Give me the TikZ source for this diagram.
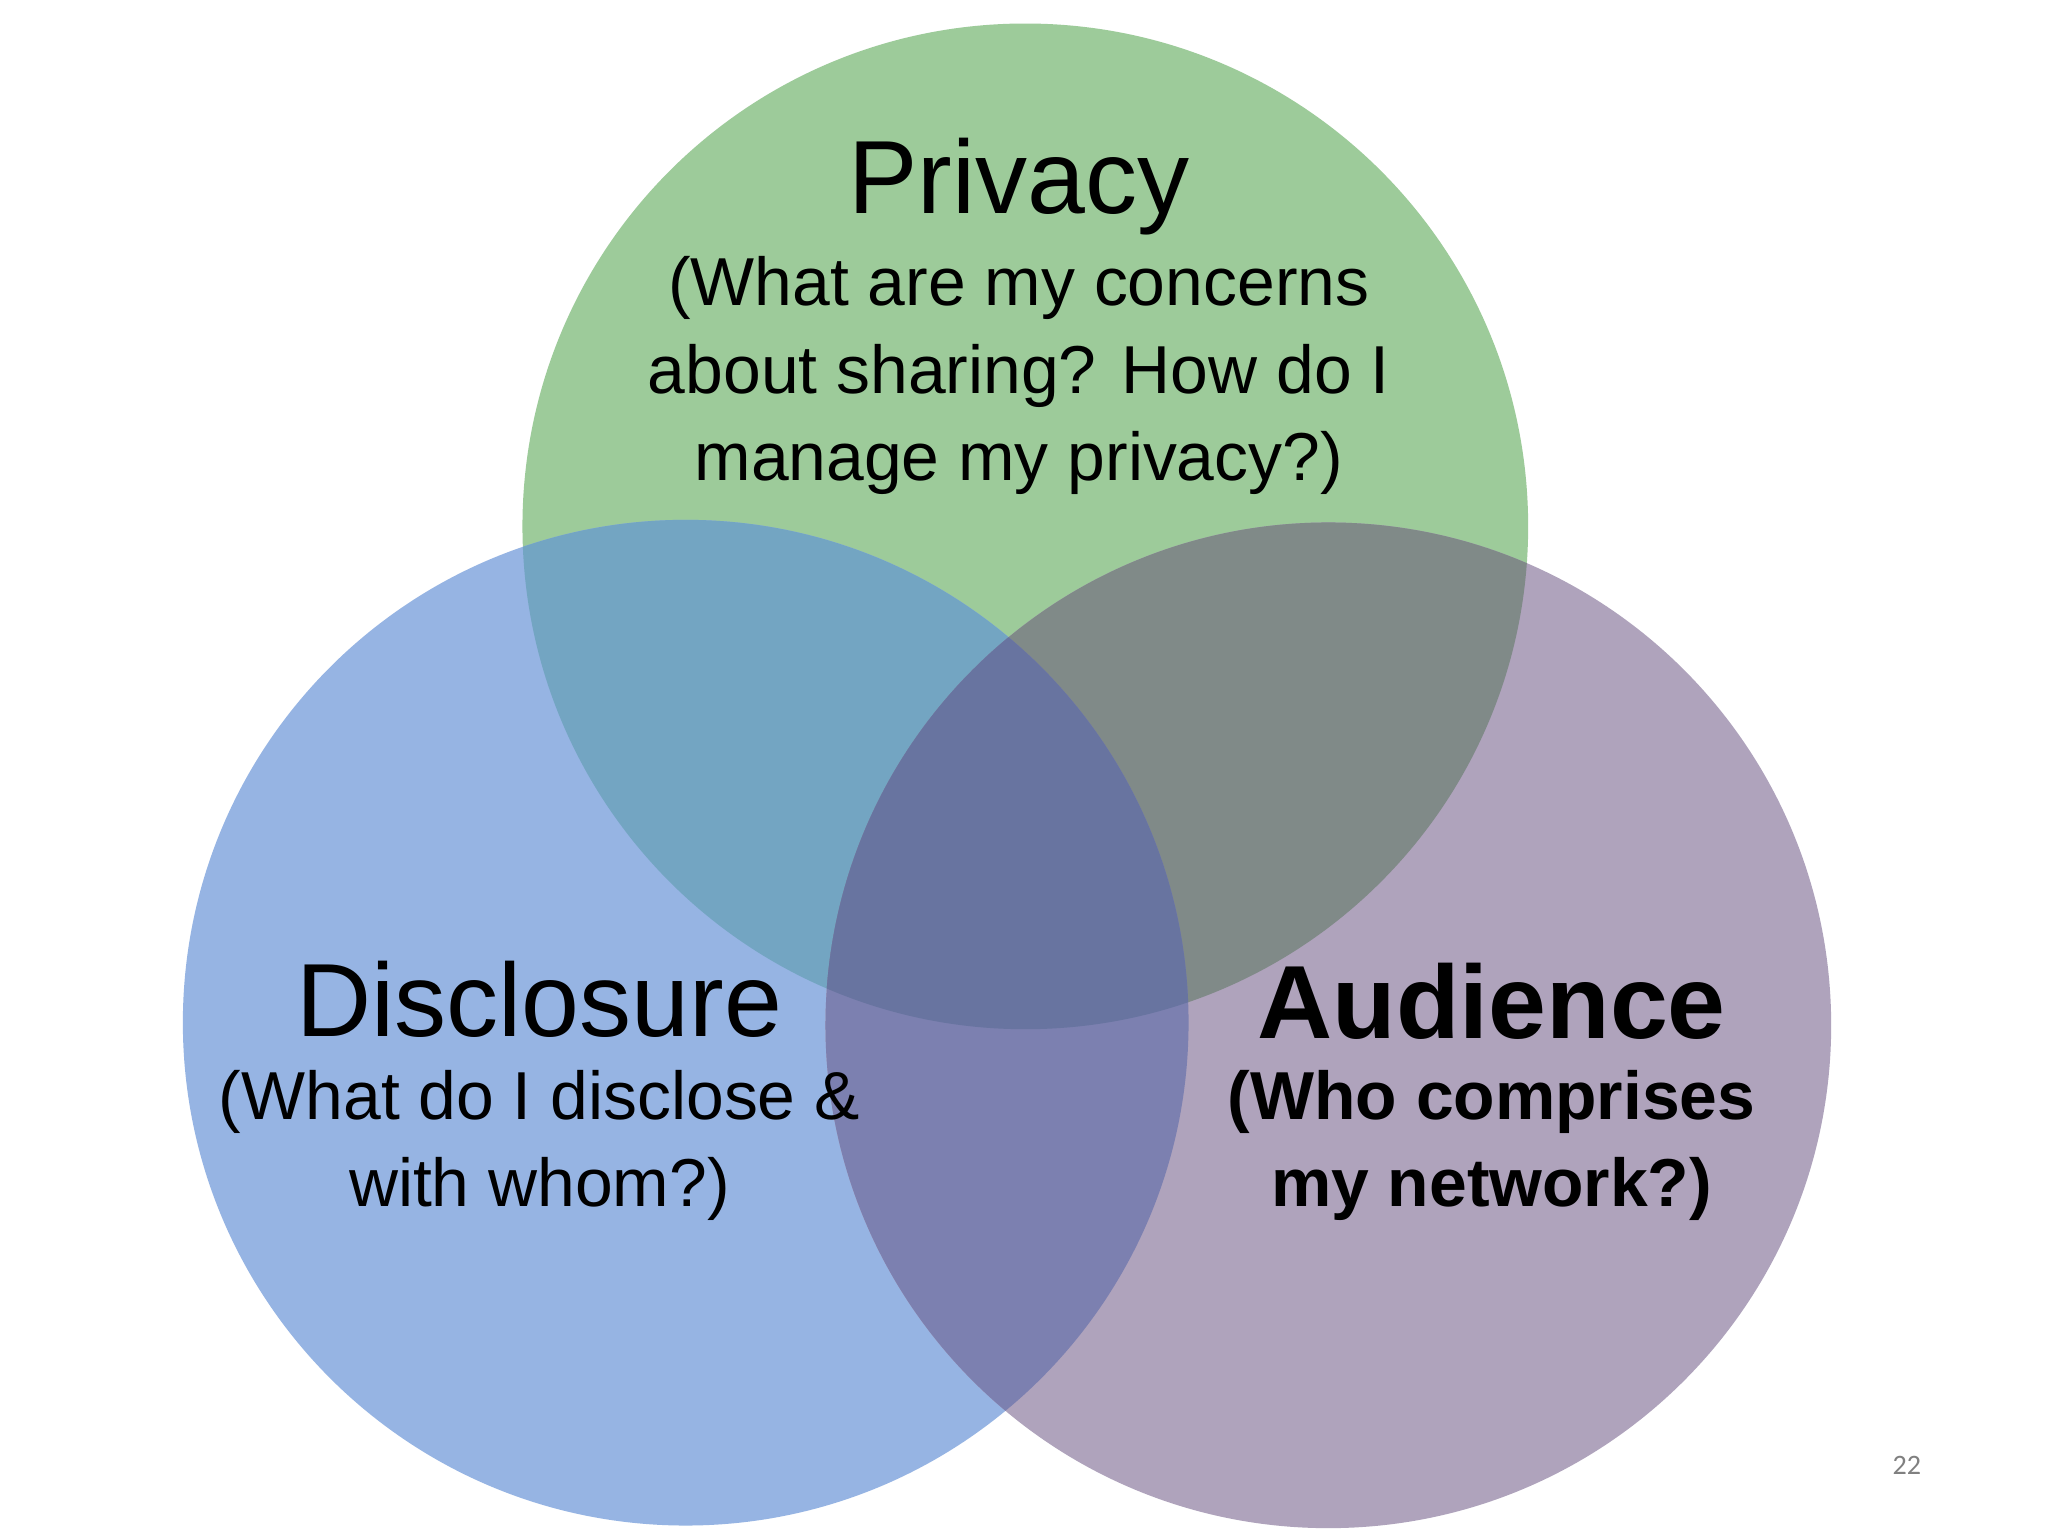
\documentclass[tikz,border=0pt]{standalone}
\usepackage{fontspec}
\setmainfont{Liberation Sans}
\newfontfamily\pgnum{Carlito}
\definecolor{cG}{HTML}{9DCB9A}
\definecolor{cB}{HTML}{96B4E3}
\definecolor{cP}{HTML}{AFA3BC}
\definecolor{cGB}{HTML}{73A5C2}
\definecolor{cGP}{HTML}{808A88}
\definecolor{cBP}{HTML}{7C80B0}
\definecolor{cGBP}{HTML}{6874A0}
\tikzset{
  title/.style={font=\fontsize{29.6}{34}\selectfont, inner sep=0pt},
  body/.style={font=\fontsize{19.3}{24.8}\selectfont, align=center, inner sep=0pt, anchor=north}
}
\begin{document}
\begin{tikzpicture}[x=0.013061cm,y=-0.013061cm]
\useasboundingbox (0,0) rectangle (1568,1176);
\fill[white] (0,0) rectangle (1568,1176);
\def\R{5.0285cm}
\def\cg{(785,403) circle (\R)}
\def\cb{(525,783) circle (\R)}
\def\cp{(1017,785) circle (\R)}
\fill[cG] \cg; \fill[cB] \cb; \fill[cP] \cp;
\begin{scope}\clip \cg; \fill[cGB] \cb; \end{scope}
\begin{scope}\clip \cg; \fill[cGP] \cp; \end{scope}
\begin{scope}\clip \cb; \fill[cBP] \cp; \end{scope}
\begin{scope}\clip \cg; \clip \cb; \fill[cGBP] \cp; \end{scope}
\node[title] (pt) at (780,143) {Privacy};
\node[body] (pb) at (780,196) {(What are my concerns\\about sharing? How do I\\manage my privacy?)};
\node[title] (dt) at (413,765) {Disclosure};
\node[body] (db) at (413,819) {(What do I disclose \&\\with whom?)};
\node[title,font=\fontsize{29.6}{34}\selectfont\bfseries] (at) at (1142,767) {Audience};
\node[body,font=\fontsize{19.3}{24.8}\selectfont\bfseries] (ab) at (1142,819) {(Who comprises\\my network?)};
\node[font=\pgnum\fontsize{8}{9}\selectfont, text=gray] (pg) at (1460,1122) {22};
\end{tikzpicture}
\end{document}
